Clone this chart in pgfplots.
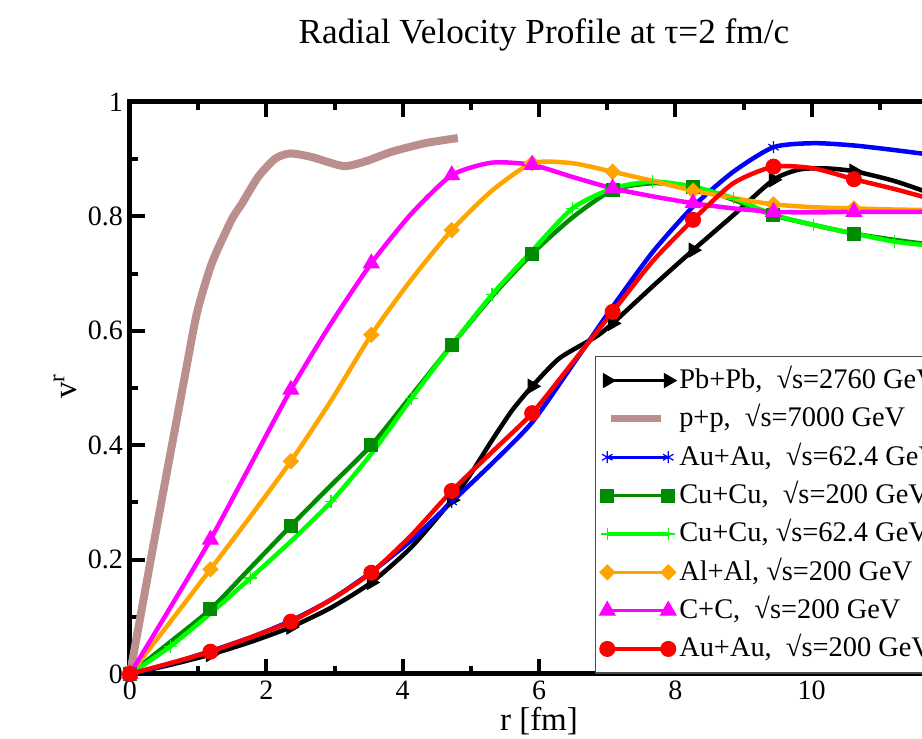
\documentclass[border=0pt]{standalone}
\usepackage{fontspec}
\setmainfont{Liberation Serif}
\usepackage{pgfplots}
\pgfplotsset{compat=1.18}
\definecolor{ppbrown}{HTML}{BC8F8F}
\definecolor{cugreen}{HTML}{008B00}
\definecolor{alorange}{HTML}{FFA500}
\definecolor{ccmagenta}{HTML}{FF00FF}
\pgfplotsset{
  gracelegend/.style={legend image code/.code={\draw[##1, line width=1.6pt, mark repeat=1, mark phase=1, mark indices={1,2}] plot coordinates {(0pt,0pt) (30.5pt,0pt)};}},
  pplegend/.style={legend image code/.code={\draw[##1, line width=3.5pt] (2pt,0pt) -- (27pt,0pt);}},
}

\begin{document}
\begin{tikzpicture}
\useasboundingbox (-65pt,-32.5pt) rectangle (396pt,337pt);
\begin{axis}[
  at={(0,0)}, anchor=south west,
  scale only axis, width=409pt, height=286pt,
  xmin=0, xmax=12, ymin=0, ymax=1,
  clip=false,
  axis line style={line width=2.5pt},
  xtick={0,2,...,12}, xticklabels={0,2,4,6,8,10,},
  ytick={0,0.2,0.4,0.6,0.8,1},
  minor x tick num=1, minor y tick num=1,
  tick align=inside, xtick pos=both, ytick pos=both,
  major tick length=7.5pt, minor tick length=4pt,
  tick style={line width=2pt, black},
  /pgf/number format/assume math mode=true,
  tick label style={font=\fontsize{14}{16}\selectfont},
  title={Radial Velocity Profile at τ=2 fm/c},
  title style={at={(axis description cs:0.506,1)}, anchor=base, yshift=23pt, font=\fontsize{17.6}{20}\selectfont},
  xlabel={r [fm]},
  xlabel style={at={(axis description cs:0.5,0)}, anchor=base, yshift=-28.5pt, font=\fontsize{16.5}{20}\selectfont},
  ylabel={v\textsuperscript{r}},
  ylabel style={at={(axis description cs:-0.0648,0.503)}, anchor=base, font=\fontsize{16.5}{20}\selectfont},
  every axis plot/.append style={line width=2.25pt, smooth, tension=0.4},
  gracelegend,
  legend style={at={(axis cs:6.82,0.556)}, anchor=north west, draw=black!70, line width=0.6pt, fill=white,
    font=\fontsize{14.2}{17}\selectfont, inner xsep=2pt, inner ysep=4.5pt, row sep=4.17pt, column sep=1.5pt,
    cells={anchor=west}, nodes={inner sep=0pt, text height=11.5pt, text depth=3.5pt}},
]
% Pb+Pb 2760
\addplot[black, mark=triangle*, mark size=4pt, mark options={rotate=-90, line width=0.5pt},
  mark indices={1,3,5,7,9,13,16,18,20,23,25}] coordinates {
  (0,0) (0.59,0.016) (1.18,0.034) (1.77,0.056) (2.36,0.082) (2.95,0.116) (3.54,0.160)
  (4.13,0.222) (4.72,0.304) (5.0,0.350) (5.28,0.403) (5.6,0.46) (5.9,0.503) (6.3,0.552)
  (6.84,0.590) (7.08,0.613) (7.67,0.678) (8.26,0.741) (8.85,0.802) (9.44,0.864) (9.82,0.882)
  (10.2,0.884) (10.62,0.879) (11.21,0.862) (11.8,0.838) (12,0.83)
};
\addlegendentry{Pb+Pb,\ \ √s=2760 GeV}
% p+p 7000
\addplot[ppbrown, line width=4pt, pplegend] coordinates {
  (0,0) (0.4,0.262) (0.78,0.505) (0.98,0.63) (1.2,0.718) (1.49,0.794) (1.64,0.822)
  (1.88,0.869) (2.13,0.901) (2.35,0.910) (2.66,0.904) (3.13,0.888) (3.45,0.896)
  (3.84,0.913) (4.33,0.928) (4.81,0.937)
};
\addlegendentry{p+p,\ \ √s=7000 GeV}
% Au+Au 62.4
\addplot[blue, mark=asterisk, mark size=3pt, mark options={line width=0.6pt},
  mark indices={1,9,17}] coordinates {
  (0,0) (0.59,0.018) (1.18,0.040) (1.77,0.064) (2.36,0.093) (2.95,0.130) (3.54,0.178)
  (4.13,0.234) (4.72,0.301) (5.31,0.368) (5.9,0.44) (6.49,0.54) (7.08,0.642) (7.67,0.738)
  (8.26,0.817) (8.85,0.878) (9.44,0.921) (10.03,0.928) (10.62,0.924) (11.21,0.916)
  (11.8,0.907) (12,0.904)
};
\addlegendentry{Au+Au,\ \ √s=62.4 GeV}
% Cu+Cu 200
\addplot[cugreen, mark=square*, mark size=3.25pt, mark options={line width=0.5pt},
  mark repeat=2, mark phase=1] coordinates {
  (0,0) (0.59,0.056) (1.18,0.113) (1.77,0.186) (2.36,0.259) (2.95,0.33) (3.54,0.400)
  (4.13,0.487) (4.72,0.575) (5.31,0.66) (5.9,0.735) (6.49,0.798) (7.08,0.846) (7.67,0.858)
  (8.26,0.852) (8.85,0.829) (9.44,0.802) (10.03,0.785) (10.62,0.770) (11.21,0.759)
  (11.8,0.750) (12,0.748)
};
\addlegendentry{Cu+Cu,\ \ √s=200 GeV}
% Cu+Cu 62.4
\addplot[green, mark=+, mark size=3.2pt, mark options={line width=0.6pt},
  mark repeat=2, mark phase=2] coordinates {
  (0,0) (0.59,0.048) (1.18,0.106) (1.77,0.168) (2.36,0.232) (2.95,0.301) (3.54,0.385)
  (4.13,0.482) (4.72,0.575) (5.31,0.663) (5.9,0.740) (6.49,0.814) (7.08,0.849) (7.67,0.861)
  (8.26,0.852) (8.85,0.832) (9.44,0.803) (10.03,0.785) (10.62,0.770) (11.21,0.756)
  (11.8,0.748) (12,0.746)
};
\addlegendentry{Cu+Cu, √s=62.4 GeV}
% Al+Al 200
\addplot[alorange, mark=square*, mark size=2.65pt, mark options={rotate=45, line width=0.5pt},
  mark repeat=2, mark phase=1] coordinates {
  (0,0) (0.59,0.091) (1.18,0.183) (1.77,0.276) (2.36,0.372) (2.95,0.478) (3.54,0.593)
  (4.13,0.69) (4.72,0.776) (5.31,0.845) (5.9,0.893) (6.49,0.893) (7.08,0.878) (7.67,0.862)
  (8.26,0.845) (8.85,0.832) (9.44,0.821) (10.03,0.816) (10.62,0.814) (11.21,0.812)
  (11.8,0.811) (12,0.811)
};
\addlegendentry{Al+Al, √s=200 GeV}
% C+C 200
\addplot[ccmagenta, mark=triangle*, mark size=4.5pt, mark options={line width=0.5pt},
  mark repeat=2, mark phase=1] coordinates {
  (0,0) (0.59,0.116) (1.18,0.235) (1.77,0.366) (2.36,0.497) (2.95,0.613) (3.54,0.718)
  (4.13,0.805) (4.72,0.872) (5.31,0.894) (5.9,0.890) (6.49,0.869) (7.08,0.849) (7.67,0.835)
  (8.26,0.823) (8.85,0.814) (9.44,0.808) (10.03,0.807) (10.62,0.808) (11.21,0.808)
  (11.8,0.808) (12,0.808)
};
\addlegendentry{C+C,\ \ √s=200 GeV}
% Au+Au 200
\addplot[red, mark=*, mark size=3.75pt, mark options={line width=0.5pt},
  mark repeat=2, mark phase=1] coordinates {
  (0,0) (0.59,0.019) (1.18,0.039) (1.77,0.064) (2.36,0.0915) (2.95,0.13) (3.54,0.177)
  (4.13,0.243) (4.72,0.320) (5.31,0.388) (5.9,0.456) (6.49,0.544) (7.08,0.633) (7.67,0.722)
  (8.26,0.794) (8.85,0.858) (9.44,0.887) (10.03,0.884) (10.62,0.865) (11.21,0.848)
  (11.8,0.829) (12,0.823)
};
\addlegendentry{Au+Au,\ \ √s=200 GeV}
\end{axis}
\end{tikzpicture}
\end{document}
